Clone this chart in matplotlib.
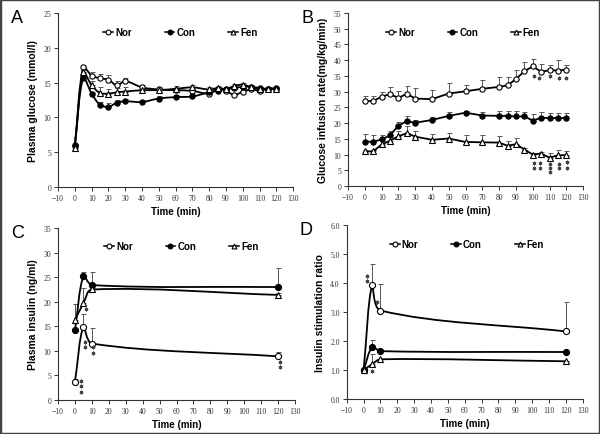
import numpy as np
import matplotlib.pyplot as plt
from matplotlib.path import Path
from matplotlib.patches import PathPatch, Rectangle
from matplotlib.lines import Line2D

# ---- data ----
t_long = [0, 5, 10, 15, 20, 25, 30, 40, 50, 60, 70, 80, 85, 90, 95, 100, 105, 110, 115, 120]
t_short = [0, 5, 10, 120]

# A: plasma glucose
glu_nor = [5.9, 17.2, 16.0, 15.6, 15.4, 14.6, 15.2, 14.3, 14.0, 13.9, 13.8, 13.4, 14.1, 13.8, 13.2, 13.7, 14.0, 13.8, 14.1, 14.1]
glu_nor_err = [0.2, 0.2, 0.5, 0.6, 0.7, 0.6, 0.5, 0.4, 0.3, 0.3, 0.3, 0.3, 0.3, 0.3, 0.3, 0.3, 0.3, 0.3, 0.2, 0.2]
glu_con = [6.0, 15.7, 13.4, 11.8, 11.5, 12.1, 12.3, 12.2, 12.7, 12.9, 13.0, 13.6, 13.8, 14.1, 14.2, 14.4, 14.4, 14.2, 14.1, 14.2]
glu_con_err = [0.2, 0.3, 0.3, 0.4, 0.5, 0.4, 0.3, 0.3, 0.3, 0.3, 0.3, 0.3, 0.3, 0.2, 0.2, 0.2, 0.2, 0.2, 0.2, 0.2]
glu_fen = [5.6, 16.5, 14.6, 13.5, 13.4, 13.6, 13.7, 13.9, 13.9, 14.1, 14.3, 14.0, 14.2, 14.1, 14.5, 14.7, 14.3, 14.0, 14.1, 14.0]
glu_fen_err = [0.2, 0.3, 0.6, 0.9, 0.7, 0.6, 0.6, 0.4, 0.3, 0.4, 0.3, 0.3, 0.3, 0.3, 0.3, 0.3, 0.3, 0.3, 0.2, 0.2]

# B: glucose infusion rate
gir_nor = [27.0, 27.0, 28.4, 29.2, 28.0, 29.3, 27.8, 27.6, 29.4, 30.1, 30.9, 31.5, 32.0, 34.0, 36.5, 38.0, 36.3, 36.8, 36.7, 37.0]
gir_nor_err = [1.5, 1.5, 1.6, 2.4, 2.3, 2.6, 3.3, 3.0, 3.4, 2.1, 2.8, 3.1, 2.6, 3.0, 2.9, 2.4, 2.5, 1.7, 3.4, 1.6]
gir_con = [14.1, 14.1, 14.8, 16.1, 19.2, 20.6, 20.1, 21.0, 22.3, 23.3, 22.4, 22.3, 22.3, 22.1, 22.1, 20.8, 21.7, 21.6, 21.6, 21.6]
gir_con_err = [2.5, 2.0, 1.5, 1.3, 1.3, 1.6, 0.9, 0.9, 1.3, 0.6, 1.2, 1.5, 1.5, 1.6, 1.4, 2.2, 1.7, 1.7, 1.7, 1.7]
gir_fen = [11.0, 11.0, 13.2, 14.4, 15.8, 16.8, 15.7, 14.7, 15.1, 14.0, 13.9, 13.8, 12.8, 13.3, 11.6, 10.0, 10.3, 9.0, 9.8, 9.8]
gir_fen_err = [0.5, 0.5, 1.0, 1.2, 1.7, 2.2, 1.9, 1.8, 1.8, 2.2, 2.2, 2.2, 1.5, 1.9, 0.6, 0.5, 0.6, 1.5, 1.5, 1.4]

# C: plasma insulin
ins_nor = [3.7, 14.9, 11.5, 8.9]
ins_nor_err = [0.6, 2.7, 3.2, 0.9]
ins_con = [14.2, 25.2, 23.4, 23.0]
ins_con_err = [0.0, 0.8, 2.6, 3.9]
ins_fen = [16.3, 19.7, 22.5, 21.4]
ins_fen_err = [3.3, 3.1, 0.3, 0.3]

# D: insulin stimulation ratio
isr_nor = [1.0, 3.92, 3.05, 2.33]
isr_nor_err = [0.0, 0.73, 0.9, 1.0]
isr_con = [1.0, 1.78, 1.65, 1.62]
isr_con_err = [0.0, 0.27, 0.0, 0.0]
isr_fen = [1.0, 1.2, 1.37, 1.3]
isr_fen_err = [0.0, 0.34, 0.0, 0.0]

# significance asterisks (x, y) positions
star_b = ([101, 103.5, 110.5, 115.5, 120, 101, 101, 104.5, 104.5, 110.5, 110.5, 110.5, 115.5, 115.5, 120.5, 120.5],
          [35.0, 34.3, 35.0, 34.3, 34.4, 7.3, 5.7, 7.3, 5.7, 7.0, 5.7, 4.6, 7.0, 5.6, 7.5, 5.8])
star_c = ([3.4, 3.4, 3.4, 6.0, 6.0, 10.9, 10.9, 121.2, 121.2, 6.5],
          [3.9, 2.8, 1.6, 11.9, 10.8, 10.7, 9.6, 7.7, 6.7, 18.5])
star_d = ([2.0, 2.0, 8.0, 5.0],
          [4.25, 4.06, 3.33, 0.97])

labels = ['Nor', 'Con', 'Fen']
mk = {'Nor': dict(marker='o', mfc='white'), 'Con': dict(marker='o', mfc='black'), 'Fen': dict(marker='^', mfc='white')}

plt.rcParams['font.family'] = 'Liberation Sans'

fig = plt.figure(figsize=(6, 4.35), dpi=100)
fig.patches.append(Rectangle((0, 0), 1, 1, transform=fig.transFigure, fill=False,
                             edgecolor='#444444', lw=2.5))


def smooth(ax, x, y, sx, sy):
    X = np.array(x, float) * sx
    Y = np.array(y, float) * sy
    P = np.column_stack([X, Y])
    d = np.hypot(np.diff(X), np.diff(Y))
    m = np.zeros_like(P)
    m[0] = (P[1] - P[0]) / d[0]
    m[-1] = (P[-1] - P[-2]) / d[-1]
    for i in range(1, len(P) - 1):
        m[i] = (P[i + 1] - P[i - 1]) / (d[i - 1] + d[i])
    verts = [P[0]]
    codes = [Path.MOVETO]
    for i in range(len(P) - 1):
        verts += [P[i] + m[i] * d[i] / 3, P[i + 1] - m[i + 1] * d[i] / 3, P[i + 1]]
        codes += [Path.CURVE4] * 3
    verts = np.array(verts) / [sx, sy]
    ax.add_patch(PathPatch(Path(verts, codes), fill=False, edgecolor='black', lw=1.3,
                           transform=ax.transData, zorder=2))


def panel(rect, letter, t, series, ylim, ystep, ylabel, fmt, smooth_lines, ms, leg_xy, stars=None):
    ax = fig.add_axes(rect)
    ax.set_xlim(-10, 130)
    ax.set_ylim(0, ylim)
    w = rect[2] * 600
    h = rect[3] * 435
    for name, y, err in series:
        ax.errorbar(t, y, yerr=[np.zeros(len(err)), err], fmt='none', ecolor='#555555',
                    elinewidth=0.7, capsize=1.8, capthick=0.7, zorder=1)
        if smooth_lines:
            smooth(ax, t, y, w / 140, h / ylim)
            ax.plot(t, y, ls='none', mec='black', mew=0.8, ms=ms, zorder=3, **mk[name])
        else:
            ax.plot(t, y, color='black', lw=1.3, mec='black', mew=0.8, ms=ms, zorder=3, **mk[name])
    if stars is not None:
        ax.plot(stars[0], stars[1], ls='none', marker=(6, 2, 0), ms=2.6, mew=0.8,
                color='#444444', zorder=3)
    for s in ['top', 'right']:
        ax.spines[s].set_visible(False)
    for s in ['left', 'bottom']:
        ax.spines[s].set_linewidth(0.8)
        ax.spines[s].set_color('#333333')
    ax.set_xticks(np.arange(-10, 131, 10))
    ax.set_yticks(np.arange(0, ylim + ystep / 2, ystep))
    ax.yaxis.set_major_formatter(fmt)
    ax.tick_params(direction='out', length=3, width=0.7, color='#333333',
                   labelsize=5.5, labelcolor='#333333', pad=2)
    for lab in ax.get_xticklabels() + ax.get_yticklabels():
        lab.set_family('Liberation Serif')
    ax.set_xlabel('Time (min)', fontsize=7, fontweight='bold', labelpad=3)
    ax.set_ylabel(ylabel, fontsize=7.5, fontweight='bold', labelpad=4)
    handles = [Line2D([], [], color='black', lw=1.1, mec='black', mew=0.8, ms=3.5, **mk[n]) for n in labels]
    ax.legend(handles, labels, loc='center', bbox_to_anchor=leg_xy, ncol=3, frameon=False,
              handlelength=1.0, handletextpad=0.2, columnspacing=3.4,
              prop={'size': 7, 'weight': 'bold'})
    fig.text(rect[0] - 0.068, rect[1] + rect[3] - 0.01, letter, fontsize=13, va='center', ha='center')
    return ax


panel([0.0967, 0.568, 0.392, 0.400], 'A', t_long,
      [('Nor', glu_nor, glu_nor_err), ('Con', glu_con, glu_con_err), ('Fen', glu_fen, glu_fen_err)],
      25, 5, 'Plasma glucose (mmol/l)', '{x:.0f}', True, 3.8, (0.52, 0.89))
panel([0.580, 0.570, 0.392, 0.398], 'B', t_long,
      [('Nor', gir_nor, gir_nor_err), ('Con', gir_con, gir_con_err), ('Fen', gir_fen, gir_fen_err)],
      55, 5, 'Glucose infusion rate(mg/kg/min)', '{x:.0f}', False, 3.8, (0.49, 0.89), star_b)
panel([0.0967, 0.078, 0.395, 0.3954], 'C', t_short,
      [('Nor', ins_nor, ins_nor_err), ('Con', ins_con, ins_con_err), ('Fen', ins_fen, ins_fen_err)],
      35, 5, 'Plasma insulin (ng/ml)', '{x:.0f}', True, 4.4, (0.52, 0.895), star_c)
panel([0.578, 0.0805, 0.393, 0.400], 'D', t_short,
      [('Nor', isr_nor, isr_nor_err), ('Con', isr_con, isr_con_err), ('Fen', isr_fen, isr_fen_err)],
      6.0, 1.0, 'Insulin stimulation ratio', '{x:.1f}', True, 4.4, (0.51, 0.89), star_d)

plt.savefig('out.png', dpi=100)
